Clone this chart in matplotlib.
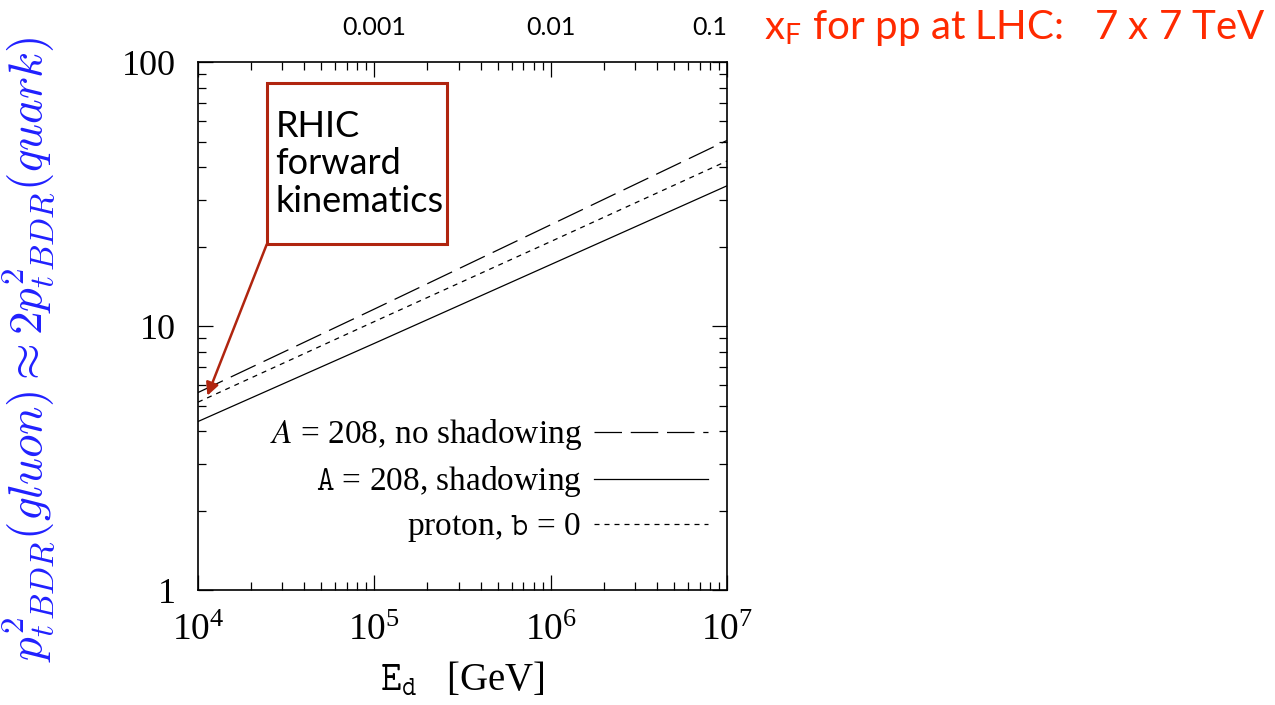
import numpy as np
import matplotlib
matplotlib.use("Agg")
import matplotlib.pyplot as plt
from matplotlib.patches import Rectangle

plt.rcParams['font.family'] = ['Liberation Serif', 'DejaVu Serif']
plt.rcParams['mathtext.fontset'] = 'stix'

# data
E_d = [1e4, 1e5, 1e6, 1e7]
pt2_noshadow = [5.6, 11.6, 24.2, 50.5]
pt2_shadow = [4.35, 8.6, 17.1, 34.0]
pt2_proton = [5.15, 10.4, 20.9, 42.2]

xf_labels = ['0.001', '0.01', '0.1']
xf_pos = [1e5, 1e6, 1e7]

rhic_point = (1.13e4, 5.45)

fig = plt.figure(figsize=(12.75, 7.05), dpi=100)
ax = fig.add_axes([0.1553, 0.163, 0.415, 0.749])

ax.plot(E_d, pt2_noshadow, color='black', lw=0.9, dashes=(22, 7),
        label=r'$A$ = 208, no shadowing')
ax.plot(E_d, pt2_shadow, color='black', lw=0.9,
        label=r'$\mathtt{A}$ = 208, shadowing')
ax.plot(E_d, pt2_proton, color='black', lw=0.9, dashes=(4, 4),
        label=r'proton, $\mathtt{b}$ = 0')

ax.set_xscale('log')
ax.set_yscale('log')
ax.set_xlim(1e4, 1e7)
ax.set_ylim(1, 100)
ax.set_yticks([1, 10, 100])
ax.set_yticklabels(['1', '10', '100'])

for s in ax.spines.values():
    s.set_linewidth(1.2)
ax.tick_params(which='both', direction='in', top=True, right=True, width=0.9)
ax.tick_params(which='major', length=11, labelsize=26, pad=16)
ax.tick_params(which='minor', length=5.5)
ax.tick_params(axis='x', which='major', labelsize=27, pad=17)

ax.set_xlabel(r'$\mathtt{E}_\mathtt{d}$   [GeV]', fontsize=28, labelpad=10)
ax.set_ylabel(r'$p^2_{t\,BDR}(gluon) \approx 2p^2_{t\,BDR}(quark)$',
              fontsize=34, color='#2020ff', math_fontfamily='cm')
ax.yaxis.set_label_coords(-0.265, 0.455)

leg = ax.legend(loc='lower right', bbox_to_anchor=(1.02, 0.03), frameon=False,
                markerfirst=False, handlelength=3.4, labelspacing=0.36,
                fontsize=24, handletextpad=0.38)

# top axis labels: x_F for pp at LHC
for lab, xp in zip(xf_labels, xf_pos):
    ha = 'right' if xp == xf_pos[-1] else 'center'
    ax.text(xp, 1.065, lab, transform=ax.get_xaxis_transform(), ha=ha, va='center',
            fontsize=18, family='Lato')
ax.text(1.07, 1.065, r'x$_{\mathregular{F}}$ for pp at LHC:   7 x 7 TeV',
        transform=ax.transAxes, ha='left', va='center', fontsize=29,
        family='Lato', color='#ff2a00')

# RHIC box with arrow
box_x0, box_y0, box_w, box_h = 0.130, 0.655, 0.341, 0.305
ax.add_patch(Rectangle((box_x0, box_y0), box_w, box_h, transform=ax.transAxes,
                       fc='white', ec='#b0250f', lw=2.2, zorder=4))
ax.text(box_x0 + 0.016, box_y0 + box_h / 2, 'RHIC\nforward\nkinematics',
        transform=ax.transAxes, ha='left', va='center', fontsize=26,
        family='Lato', linespacing=1.17, zorder=5)
ax.annotate('', xy=rhic_point, xycoords='data',
            xytext=(box_x0, box_y0), textcoords='axes fraction',
            arrowprops=dict(arrowstyle='-|>', color='#b0250f', lw=1.8,
                            shrinkA=0, shrinkB=0, mutation_scale=19), zorder=5)

fig.savefig('out.png', dpi=100)
